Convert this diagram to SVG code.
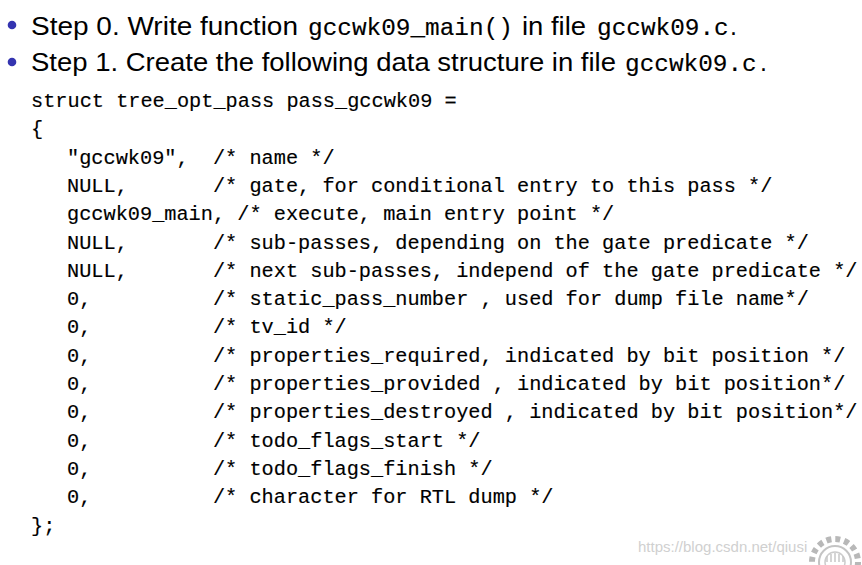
<svg xmlns="http://www.w3.org/2000/svg" width="862" height="565" viewBox="0 0 862 565">
<style>
.sans{font-family:"Liberation Sans","DejaVu Sans",Arial,sans-serif;font-size:25px;fill:#000}
.tt{font-family:"Liberation Mono","DejaVu Sans Mono",monospace;fill:#000;stroke:#000;stroke-width:0.15px}
.big{font-size:24.4px}
.code{font-size:20.28px;white-space:pre}
.bul{fill:#3434b0}
.wm{font-family:"Liberation Sans",Arial,sans-serif;font-size:15px;fill:#d0d0d0}
</style>
<rect width="862" height="565" fill="#fff"/>
<g id="step0">
<circle class="bul" cx="12" cy="25" r="4.3"/>
<text class="sans" x="31" y="35" textLength="267" lengthAdjust="spacingAndGlyphs">Step 0. Write function</text>
<text class="tt big" x="308" y="35">gccwk09_main()</text>
<text class="sans" x="522" y="35" textLength="64" lengthAdjust="spacingAndGlyphs">in file</text>
<text class="tt big" x="597" y="35">gccwk09.c</text>
<text class="sans" x="730" y="35">.</text>
</g>
<g id="step1">
<circle class="bul" cx="12" cy="62" r="4.3"/>
<text class="sans" x="31" y="71" textLength="585" lengthAdjust="spacingAndGlyphs">Step 1. Create the following data structure in file</text>
<text class="tt big" x="625" y="71">gccwk09.c</text>
<text class="sans" x="760" y="71">.</text>
</g>
<g id="code" xml:space="preserve">
<text class="tt code" x="31" y="107">struct tree_opt_pass pass_gccwk09 =</text>
<text class="tt code" x="31" y="135.3">{</text>
<text class="tt code" x="67" y="163.6">"gccwk09",  /* name */</text>
<text class="tt code" x="67" y="191.9">NULL,       /* gate, for conditional entry to this pass */</text>
<text class="tt code" x="67" y="220.2">gccwk09_main, /* execute, main entry point */</text>
<text class="tt code" x="67" y="248.5">NULL,       /* sub-passes, depending on the gate predicate */</text>
<text class="tt code" x="67" y="276.8">NULL,       /* next sub-passes, independ of the gate predicate */</text>
<text class="tt code" x="67" y="305.1">0,          /* static_pass_number , used for dump file name*/</text>
<text class="tt code" x="67" y="333.4">0,          /* tv_id */</text>
<text class="tt code" x="67" y="361.7">0,          /* properties_required, indicated by bit position */</text>
<text class="tt code" x="67" y="390">0,          /* properties_provided , indicated by bit position*/</text>
<text class="tt code" x="67" y="418.3">0,          /* properties_destroyed , indicated by bit position*/</text>
<text class="tt code" x="67" y="446.6">0,          /* todo_flags_start */</text>
<text class="tt code" x="67" y="474.9">0,          /* todo_flags_finish */</text>
<text class="tt code" x="67" y="503.2">0,          /* character for RTL dump */</text>
<text class="tt code" x="31" y="531.5">};</text>
</g>
<g id="watermark">
<text class="wm" x="638" y="552">https://blog.csdn.net/qiusi</text>
<circle cx="835" cy="562" r="23" fill="#fff" stroke="#b8b8b8" stroke-width="6" stroke-dasharray="5 4"/>
<circle cx="835" cy="562" r="16" fill="none" stroke="#c4c4c4" stroke-width="2"/>
<circle cx="835" cy="562" r="10" fill="none" stroke="#cccccc" stroke-width="1.5"/>
<path d="M827 562v-6M831 562v-8M835 562v-9M839 562v-8M843 562v-6" stroke="#c8c8c8" stroke-width="1.5"/>
</g>
</svg>
